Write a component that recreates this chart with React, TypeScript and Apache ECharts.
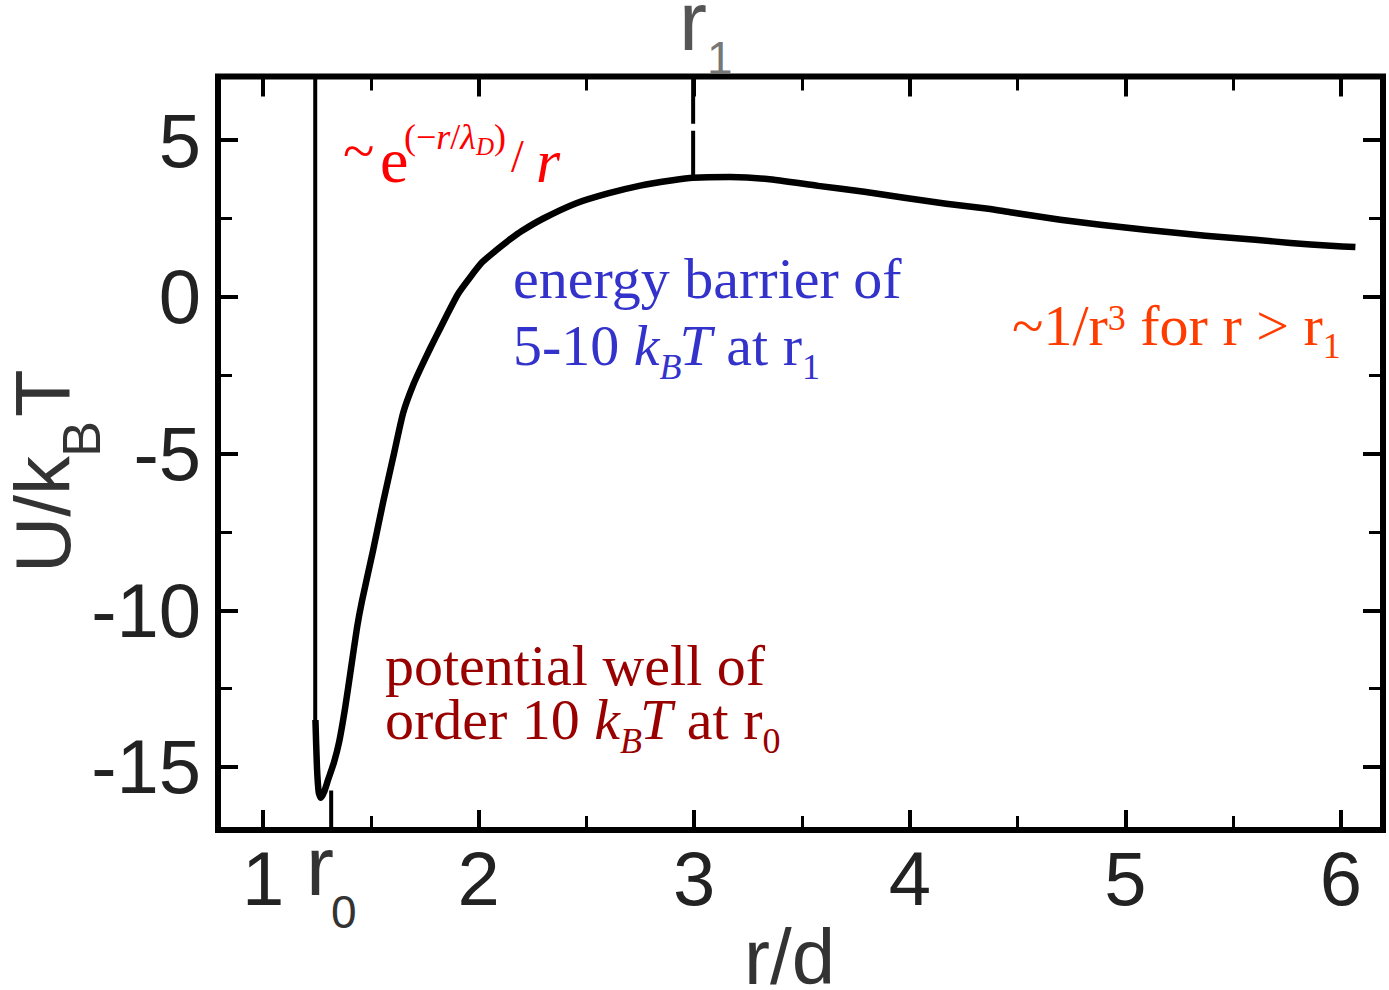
import React, { useEffect, useRef } from "react";
import * as echarts from "echarts";

// ---- data ----
const rValues = [1.243, 1.25, 1.258, 1.268, 1.283, 1.302, 1.329, 1.353, 1.381, 1.408, 1.436, 1.459, 1.51, 1.557, 1.608, 1.65, 1.7, 1.75, 1.8, 1.85, 1.905, 1.96, 2.016, 2.08, 2.137, 2.2, 2.3, 2.45, 2.6, 2.75, 2.9, 2.995, 3.167, 3.339, 3.575, 3.789, 3.974, 4.169, 4.364, 4.466, 4.698, 4.884, 5.093, 5.371, 5.603, 5.766, 5.951, 6.067];
const uValues = [-13.5, -15.0, -15.8, -15.98, -15.8, -15.4, -14.85, -14.2, -13.1, -11.85, -10.55, -9.7, -8.1, -6.55, -4.98, -3.7, -2.75, -2.0, -1.3, -0.62, 0.1, 0.62, 1.1, 1.48, 1.79, 2.1, 2.5, 2.98, 3.3, 3.55, 3.72, 3.8, 3.82, 3.76, 3.54, 3.35, 3.16, 2.97, 2.81, 2.7, 2.46, 2.3, 2.14, 1.95, 1.82, 1.72, 1.63, 1.59];

const xRange = [0.791, 6.195];
const yRange = [-17.01, 7.03];

const wallR = 1.242;
const wallU = [7.03, -13.5];
const r0Value = 1.316;
const r0LineU = [-17.01, -15.75];
const r1Value = 2.995;
const r1LineUpper = [7.03, 5.52];
const r1LineLower = [5.3, 3.8];

const SERIF = '"Liberation Serif", "Times New Roman", serif';
const SANS = '"Liberation Sans", Arial, sans-serif';
const K_SERIF = 0.3375;
const K_SANS = 0.3465;

type Piece = { t: string; fs: number; it?: boolean; dy?: number; dx?: number; x?: number };

let mctx: CanvasRenderingContext2D | null = null;
function tw(t: string, fs: number, it: boolean, fam: string) {
  if (!mctx) mctx = document.createElement("canvas").getContext("2d");
  if (!mctx) return t.length * fs * 0.5;
  mctx.font = `${it ? "italic " : ""}${fs}px ${fam}`;
  return mctx.measureText(t).width;
}

function layout(x0: number, base: number, pieces: Piece[], fill: string, fam: string, k: number) {
  let x = x0;
  const out: any[] = [];
  for (const p of pieces) {
    if (p.x !== undefined) x = p.x;
    x += p.dx || 0;
    out.push({
      type: "text",
      x,
      y: base + (p.dy || 0) - k * p.fs,
      silent: true,
      z: 100,
      style: {
        text: p.t,
        fill,
        fontSize: p.fs,
        fontFamily: fam,
        fontStyle: p.it ? "italic" : "normal",
        lineHeight: Math.round(p.fs * 0.8),
        align: "left",
        verticalAlign: "middle",
      },
    });
    x += tw(p.t, p.fs, !!p.it, fam);
  }
  return out;
}

function buildGraphics() {
  const g: any[] = [];
  // red formula
  const red = "#ff0000";
  g.push(...layout(343, 170, [{ t: "~", fs: 58 }], red, SERIF, K_SERIF));
  g.push(...layout(380, 182, [{ t: "e", fs: 64 }], red, SERIF, K_SERIF));
  g.push(
    ...layout(
      404,
      149,
      [
        { t: "(\u2212", fs: 36 },
        { t: "r", fs: 36, it: true },
        { t: "/", fs: 36 },
        { t: "\u03bb", fs: 36, it: true },
        { t: "D", fs: 25, it: true, dy: 6 },
        { t: ")", fs: 36 },
      ],
      red,
      SERIF,
      K_SERIF
    )
  );
  g.push(...layout(511, 172, [{ t: "/", fs: 46 }], red, SERIF, K_SERIF));
  g.push(...layout(536, 182, [{ t: "r", fs: 62, it: true }], red, SERIF, K_SERIF));

  // blue
  const blue = "#3333cc";
  g.push(...layout(513, 298, [{ t: "energy barrier of", fs: 58 }], blue, SERIF, K_SERIF));
  g.push(
    ...layout(
      513,
      365,
      [
        { t: "5-10 ", fs: 58 },
        { t: "k", fs: 58, it: true },
        { t: "B", fs: 36, it: true, dy: 14 },
        { t: "T", fs: 58, it: true, dx: -2 },
        { t: " at r", fs: 58 },
        { t: "1", fs: 36, dy: 14 },
      ],
      blue,
      SERIF,
      K_SERIF
    )
  );

  // orange
  const orange = "#ff3c00";
  g.push(
    ...layout(
      1012,
      345,
      [
        { t: "~1/r", fs: 58 },
        { t: "3", fs: 36, dy: -15 },
        { t: " for r > r", fs: 58 },
        { t: "1", fs: 36, dy: 13 },
      ],
      orange,
      SERIF,
      K_SERIF
    )
  );

  // dark red
  const dred = "#990000";
  g.push(...layout(385, 685, [{ t: "potential well of", fs: 58 }], dred, SERIF, K_SERIF));
  g.push(
    ...layout(
      385,
      739,
      [
        { t: "order 10 ", fs: 58 },
        { t: "k", fs: 58, it: true },
        { t: "B", fs: 36, it: true, dy: 14 },
        { t: "T", fs: 58, it: true, dx: -2 },
        { t: " at r", fs: 58 },
        { t: "0", fs: 36, dy: 14 },
      ],
      dred,
      SERIF,
      K_SERIF
    )
  );

  // axis annotations (sans)
  const grey = "#333333";
  g.push(...layout(306, 895, [{ t: "r", fs: 84 }], grey, SANS, K_SANS));
  g.push(...layout(331, 928, [{ t: "0", fs: 46 }], grey, SANS, K_SANS));
  g.push(...layout(679, 50, [{ t: "r", fs: 84 }], "#555555", SANS, K_SANS));
  g.push(...layout(707, 74, [{ t: "1", fs: 46 }], "#777777", SANS, K_SANS));
  g.push(...layout(744, 984, [{ t: "r/d", fs: 78 }], grey, SANS, K_SANS));

  // rotated y title
  const titleChildren = [
    ...layout(0, 0, [{ t: "U/k", fs: 78 }], grey, SANS, K_SANS),
    ...layout(116, 30, [{ t: "B", fs: 54 }], grey, SANS, K_SANS),
    ...layout(156, 0, [{ t: "T", fs: 78 }], grey, SANS, K_SANS),
  ];
  g.push({ type: "group", x: 70, y: 573, rotation: Math.PI / 2, children: titleChildren });
  return g;
}

function tickLabel(v: number) {
  return Math.abs(v - Math.round(v)) < 1e-9 ? String(Math.round(v)) : "";
}

export default function App() {
  const ref = useRef<HTMLDivElement>(null);
  useEffect(() => {
    if (!ref.current) return;
    const chart = echarts.init(ref.current, undefined, { renderer: "svg" });
    const tickCommon = {
      axisLine: { show: false, onZero: false },
      axisTick: { show: true, inside: true, length: 20, lineStyle: { color: "#000", width: 4 } },
      minorTick: { show: true, splitNumber: 2, length: 14, lineStyle: { color: "#000", width: 3 } },
      splitLine: { show: false },
      minorSplitLine: { show: false },
    };
    const labelStyle = { fontSize: 76, fontFamily: SANS, color: "#222" };
    const curve = rValues.map((r, i) => [r, uValues[i]]);
    chart.setOption({
      animation: false,
      backgroundColor: "#ffffff",
      grid: {
        left: 218,
        top: 76.5,
        width: 1165,
        height: 753.5,
        show: true,
        borderColor: "#000",
        borderWidth: 6,
        backgroundColor: "transparent",
      },
      xAxis: [
        {
          type: "value",
          position: "bottom",
          min: xRange[0],
          max: xRange[1],
          splitNumber: 5,
          ...tickCommon,
          axisLabel: { ...labelStyle, margin: 10, formatter: tickLabel, showMinLabel: false, showMaxLabel: false },
        },
        {
          type: "value",
          position: "top",
          min: xRange[0],
          max: xRange[1],
          splitNumber: 5,
          ...tickCommon,
          axisLabel: { show: false },
        },
      ],
      yAxis: [
        {
          type: "value",
          position: "left",
          min: yRange[0],
          max: yRange[1],
          splitNumber: 5,
          ...tickCommon,
          axisLabel: { ...labelStyle, margin: 17, formatter: tickLabel, showMinLabel: false, showMaxLabel: false },
        },
        {
          type: "value",
          position: "right",
          min: yRange[0],
          max: yRange[1],
          splitNumber: 5,
          ...tickCommon,
          axisLabel: { show: false },
        },
      ],
      series: [
        {
          type: "line",
          data: curve,
          symbol: "none",
          smooth: 0.2,
          lineStyle: { color: "#000", width: 6.5, join: "round" },
        },
        {
          type: "line",
          data: wallU.map((u) => [wallR, u]),
          symbol: "none",
          lineStyle: { color: "#000", width: 4 },
        },
        {
          type: "line",
          data: r0LineU.map((u) => [r0Value, u]),
          symbol: "none",
          lineStyle: { color: "#000", width: 4 },
        },
        {
          type: "line",
          data: r1LineUpper.map((u) => [r1Value, u]),
          symbol: "none",
          lineStyle: { color: "#000", width: 4 },
        },
        {
          type: "line",
          data: r1LineLower.map((u) => [r1Value, u]),
          symbol: "none",
          lineStyle: { color: "#000", width: 4 },
        },
      ],
      graphic: buildGraphics(),
    });
    return () => chart.dispose();
  }, []);
  return (
    <div
      ref={ref}
      style={{ position: "fixed", left: 0, top: 0, width: 1389, height: 990, background: "#fff" }}
    />
  );
}
